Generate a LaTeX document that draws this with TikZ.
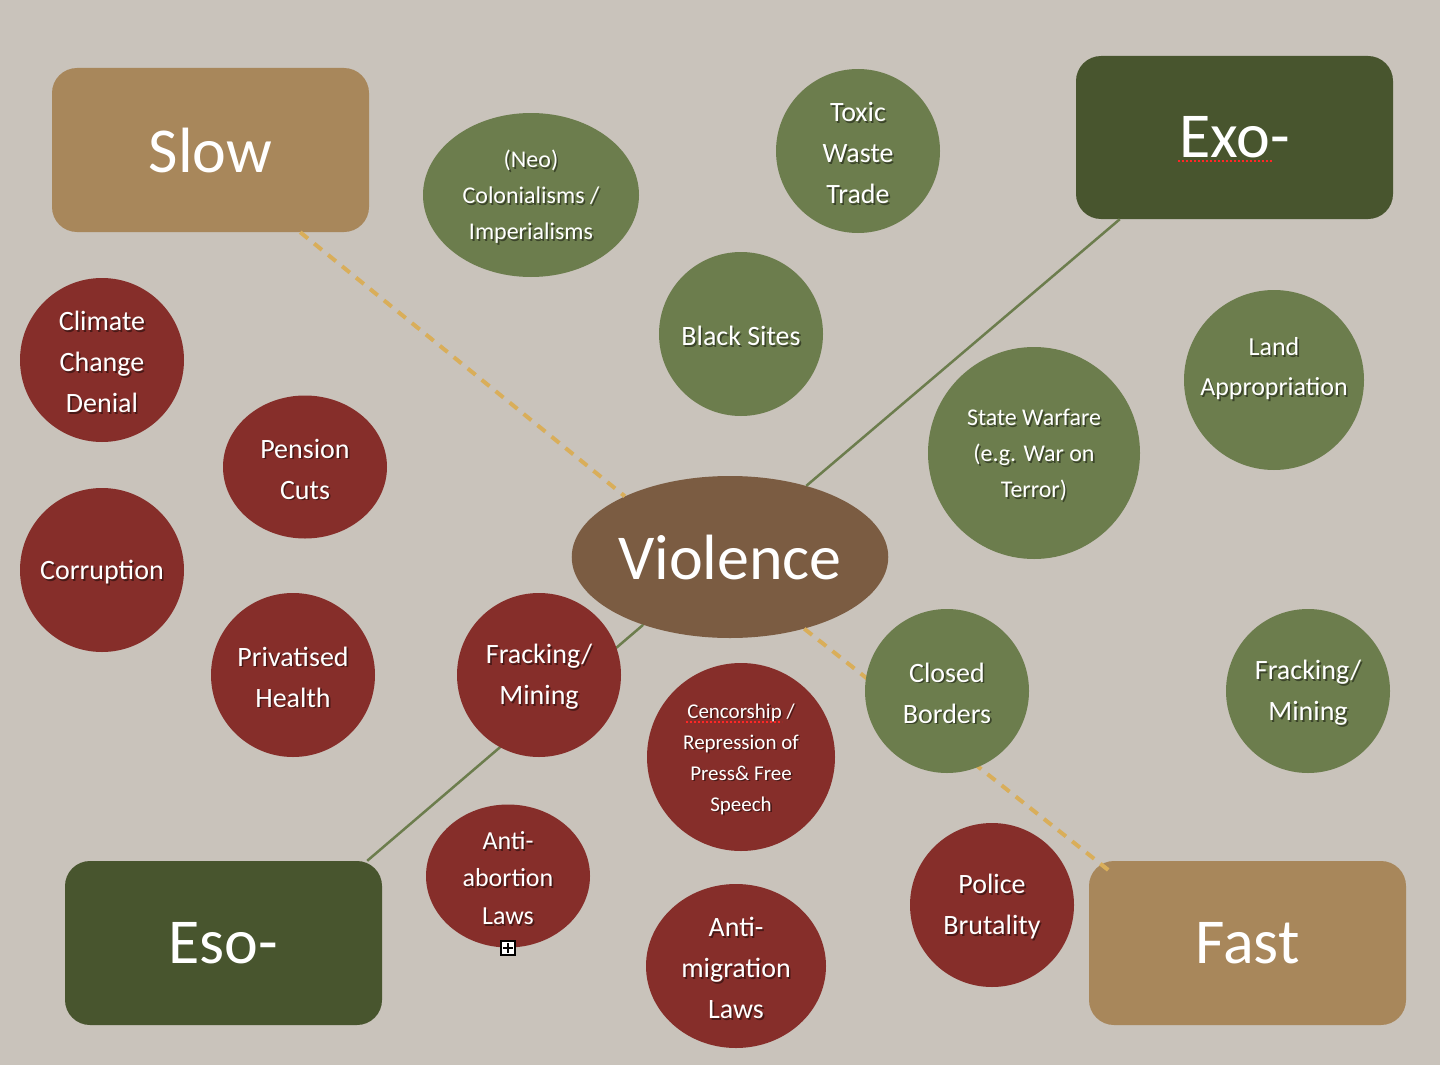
\documentclass[tikz,border=0pt]{standalone}
\usepackage{fontspec}
\setmainfont{Carlito}
\usetikzlibrary{shapes.geometric}
\definecolor{bgc}{HTML}{C9C3BB}
\definecolor{redc}{HTML}{862E2A}
\definecolor{greenc}{HTML}{6C7D4D}
\definecolor{dgreen}{HTML}{48552E}
\definecolor{tanc}{HTML}{A8875B}
\definecolor{brownc}{HTML}{7B5C42}
\definecolor{dashc}{HTML}{D9AE5A}
\tikzset{
  bigbox/.style={rounded corners=25pt, minimum width=317pt, minimum height=164pt, inner sep=0pt, text=white, font=\fontsize{64pt}{70pt}\selectfont},
  blobshape/.style={ellipse, inner sep=0pt},
  blobtext/.style={text=white, align=center, inner sep=0pt, yshift=-2pt},
  tA/.style={font=\fontsize{28pt}{41pt}\selectfont},
  tB/.style={font=\fontsize{24pt}{36pt}\selectfont},
  tC/.style={font=\fontsize{21pt}{31pt}\selectfont},
  tD/.style={font=\fontsize{26pt}{37.5pt}\selectfont},
  tE/.style={font=\fontsize{26pt}{40pt}\selectfont},
  greenline/.style={draw=greenc, line width=2.5pt},
  dashline/.style={draw=dashc, line width=4pt, dash pattern=on 10pt off 8pt},
  spell/.style={draw=red!85!white, line width=2pt, dash pattern=on 2pt off 2pt}
}
\newcommand\blob[5]{%
  \node[blobshape,#3] (#1) at (#2) {};
  \node[blobtext,#4,text=black,text opacity=.45] (#1s) at ([xshift=1.6pt,yshift=-1.6pt]#1.center) {#5};
  \node[blobtext,#4] (#1t) at (#1.center) {#5};
}
\begin{document}
\begin{tikzpicture}[x=1pt,y=-1pt]
\useasboundingbox (0,0) rectangle (1440,1065);
\fill[bgc] (0,0) rectangle (1440,1065);
% boxes
\node[bigbox, fill=tanc] (slow) at (210.5,150) {Slow};
\node[bigbox, fill=dgreen, minimum height=163pt] (exo) at (1234.5,137.5) {Exo-};
\node[bigbox, fill=dgreen] (eso) at (223.5,943) {Eso-};
\node[bigbox, fill=tanc] (fast) at (1247.5,943) {Fast};
\node[ellipse, fill=brownc, minimum width=316pt, minimum height=162pt, inner sep=0pt, text=white, font=\fontsize{64pt}{70pt}\selectfont] (violence) at (730,557) {Violence};
% connectors
\draw[greenline] ([xshift=44pt]exo.south west) -- (violence.43);
\draw[greenline] ([xshift=-15pt]eso.north east) -- (violence.218);
\draw[dashline] ([xshift=-69pt]slow.south east) -- (violence.150);
\draw[dashline] (violence.316) -- ([xshift=23pt,yshift=-12pt]fast.north west);
% red bubbles
\blob{climate}{102,360}{fill=redc, minimum width=164pt, minimum height=164pt}{tA}{Climate\\Change\\Denial}
\blob{pension}{305,467}{fill=redc, minimum width=164pt, minimum height=143pt}{tA}{Pension\\Cuts}
\blob{corruption}{102,570}{fill=redc, minimum width=164pt, minimum height=164pt}{tA}{Corruption}
\blob{privatised}{293,675}{fill=redc, minimum width=164pt, minimum height=164pt}{tA}{Privatised\\Health}
\blob{frackL}{539,675}{fill=redc, minimum width=164pt, minimum height=164pt}{tA}{Fracking/\\Mining}
\blob{cencor}{741,757}{fill=redc, minimum width=188pt, minimum height=188pt}{tC}{Cencorship /\\Repression of\\Press\& Free\\Speech}
\blob{antiab}{508,876}{fill=redc, minimum width=164pt, minimum height=143pt}{tD}{Anti-\\abortion\\Laws}
\blob{antimig}{736,966}{fill=redc, minimum width=180pt, minimum height=164pt}{tA}{Anti-\\migration\\Laws}
\blob{police}{992,905}{fill=redc, minimum width=164pt, minimum height=164pt}{tA}{Police\\Brutality}
% green bubbles
\blob{neo}{531,195}{fill=greenc, minimum width=216pt, minimum height=164pt}{tB}{(Neo)\\Colonialisms /\\Imperialisms}
\blob{toxic}{858,151}{fill=greenc, minimum width=164pt, minimum height=164pt}{tA}{Toxic\\Waste\\Trade}
\blob{black}{741,334}{fill=greenc, minimum width=164pt, minimum height=164pt}{tA}{Black Sites}
\blob{state}{1034,453}{fill=greenc, minimum width=212pt, minimum height=212pt}{tB}{State Warfare\\(e.g. War on\\Terror)}
\blob{land}{1274,380}{fill=greenc, minimum width=180pt, minimum height=180pt}{tE, yshift=13pt}{Land\\Appropriation}
\blob{closed}{947,691}{fill=greenc, minimum width=164pt, minimum height=164pt}{tA}{Closed\\Borders}
\blob{frackR}{1308,691}{fill=greenc, minimum width=164pt, minimum height=164pt}{tA}{Fracking/\\Mining}
% spell-check marks
\draw[spell] (1178,161) -- (1272,161);
\draw[spell] (686,722) -- (782,722);
% small expand icon
\node[draw=black, fill=white, minimum size=14pt, inner sep=0pt, line width=1.2pt] (plusbox) at (508,948) {};
\draw[line width=1.2pt] ([yshift=-3pt]plusbox.north) -- ([yshift=3pt]plusbox.south);
\draw[line width=1.2pt] ([xshift=3pt]plusbox.west) -- ([xshift=-3pt]plusbox.east);
\end{tikzpicture}
\end{document}
